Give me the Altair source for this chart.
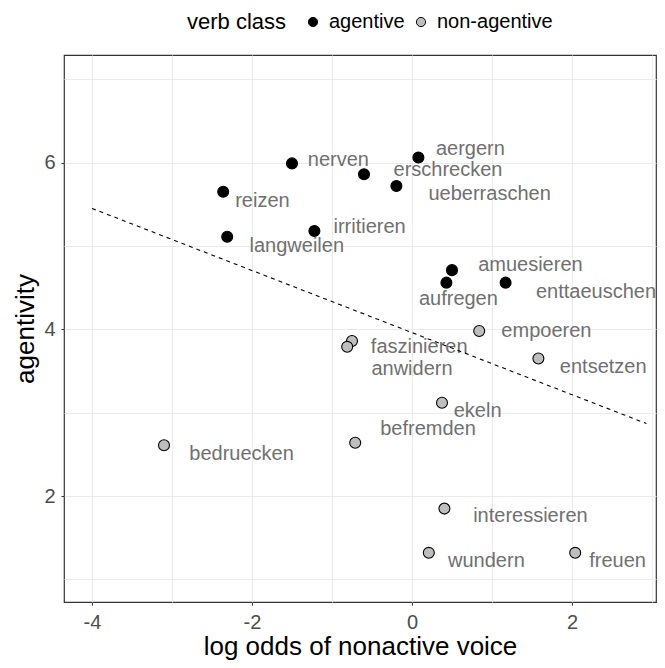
import altair as alt
import pandas as pd

verbs = ["nerven", "aergern", "erschrecken", "ueberraschen", "reizen", "irritieren",
         "langweilen", "amuesieren", "aufregen", "enttaeuschen",
         "empoeren", "faszinieren", "anwidern", "entsetzen", "ekeln", "befremden",
         "bedruecken", "interessieren", "wundern", "freuen"]
verb_class = ["agentive"] * 10 + ["non-agentive"] * 10
log_odds = [-1.50, 0.08, -0.60, -0.195, -2.36, -1.22, -2.31, 0.50, 0.43, 1.17,
            0.84, -0.75, -0.81, 1.58, 0.375, -0.71, -3.10, 0.405, 0.21, 2.04]
agentivity = [5.99, 6.06, 5.86, 5.72, 5.65, 5.18, 5.11, 4.71, 4.56, 4.56,
              3.98, 3.86, 3.79, 3.65, 3.12, 2.64, 2.61, 1.85, 1.32, 1.32]
# repelled label positions (data units)
label_x = [-0.92, 0.73, 0.45, 0.97, -1.87, -0.53, -1.44, 1.48, 0.58, 2.30,
           1.68, 0.09, 0.00, 2.39, 0.82, 0.20, -2.13, 1.48, 0.93, 2.57]
label_y = [6.03, 6.16, 5.91, 5.62, 5.54, 5.23, 5.00, 4.77, 4.36, 4.45,
           3.98, 3.79, 3.53, 3.55, 3.02, 2.80, 2.51, 1.76, 1.22, 1.22]

line_x = [-4.0, 2.93]
line_y = [5.45, 2.87]

x_ticks = [-4, -3, -2, -1, 0, 1, 2, 3]
y_ticks = [1, 2, 3, 4, 5, 6, 7]

df = pd.DataFrame({"verb": verbs, "cls": verb_class, "x": log_odds, "y": agentivity,
                   "lx": label_x, "ly": label_y})
line_df = pd.DataFrame({"x": line_x, "y": line_y})

FONT = "Liberation Sans"

xscale = alt.Scale(domain=[-4.35, 3.05], nice=False, zero=False)
yscale = alt.Scale(domain=[0.73, 7.29], nice=False, zero=False)

even_only = "datum.value % 2 === 0 ? toString(datum.value) : ''"
tick_op = {"condition": {"test": "datum.value % 2 !== 0", "value": 0}, "value": 1}

xaxis = alt.Axis(values=x_ticks, labelExpr=even_only, tickOpacity=tick_op,
                 title="log odds of nonactive voice", titleFontSize=26,
                 titleFontWeight="normal", titleColor="black", titleFont=FONT,
                 labelFont=FONT, labelFontSize=20, labelColor="#4d4d4d",
                 labelPadding=7, tickSize=3, tickColor="#333333", titlePadding=1,
                 domain=False, grid=True, gridColor="#ebebeb", labelFlush=False)
yaxis = alt.Axis(values=y_ticks, labelExpr=even_only, tickOpacity=tick_op,
                 title="agentivity", titleFontSize=26,
                 titleFontWeight="normal", titleColor="black", titleFont=FONT,
                 labelFont=FONT, labelFontSize=20, labelColor="#4d4d4d",
                 labelPadding=6, tickSize=3, tickColor="#333333", titlePadding=5,
                 domain=False, grid=True, gridColor="#ebebeb", labelFlush=False)

points = alt.Chart(df).mark_point(filled=True, size=120, stroke="black",
                                  strokeWidth=1.1, opacity=1).encode(
    x=alt.X("x:Q", scale=xscale, axis=xaxis),
    y=alt.Y("y:Q", scale=yscale, axis=yaxis),
    fill=alt.Fill("cls:N", scale=alt.Scale(domain=["agentive", "non-agentive"],
                                           range=["black", "#bebebe"]),
                  legend=alt.Legend(title="verb class", orient="none", direction="horizontal",
                                    legendX=123, legendY=-43, titleOrient="left",
                                    titleFontSize=22, titleFontWeight="normal",
                                    titleColor="black", titleFont=FONT, titlePadding=16,
                                    titleAnchor="middle", titleBaseline="middle",
                                    labelFont=FONT, labelFontSize=20, labelColor="black",
                                    labelOffset=6, columnPadding=6, symbolSize=85,
                                    symbolType="circle", symbolStrokeColor="black",
                                    symbolStrokeWidth=1)),
)

labels = alt.Chart(df).mark_text(font=FONT, fontSize=20, color="#707070",
                                 align="center", baseline="middle").encode(
    x=alt.X("lx:Q", scale=xscale),
    y=alt.Y("ly:Q", scale=yscale),
    text="verb:N",
)

line = alt.Chart(line_df).mark_line(color="black", strokeWidth=1.1,
                                    strokeDash=[4, 4]).encode(
    x=alt.X("x:Q", scale=xscale),
    y=alt.Y("y:Q", scale=yscale),
)

chart = alt.layer(points, labels, line).properties(
    width=592, height=547,
    autosize=alt.AutoSizeParams(type="none"),
    padding={"left": 56, "top": 47, "right": 1, "bottom": 58},
    background="white",
).configure_view(stroke="#333333", strokeWidth=1.2)

chart.save("out.html", embed_options={"renderer": "svg", "actions": False})
